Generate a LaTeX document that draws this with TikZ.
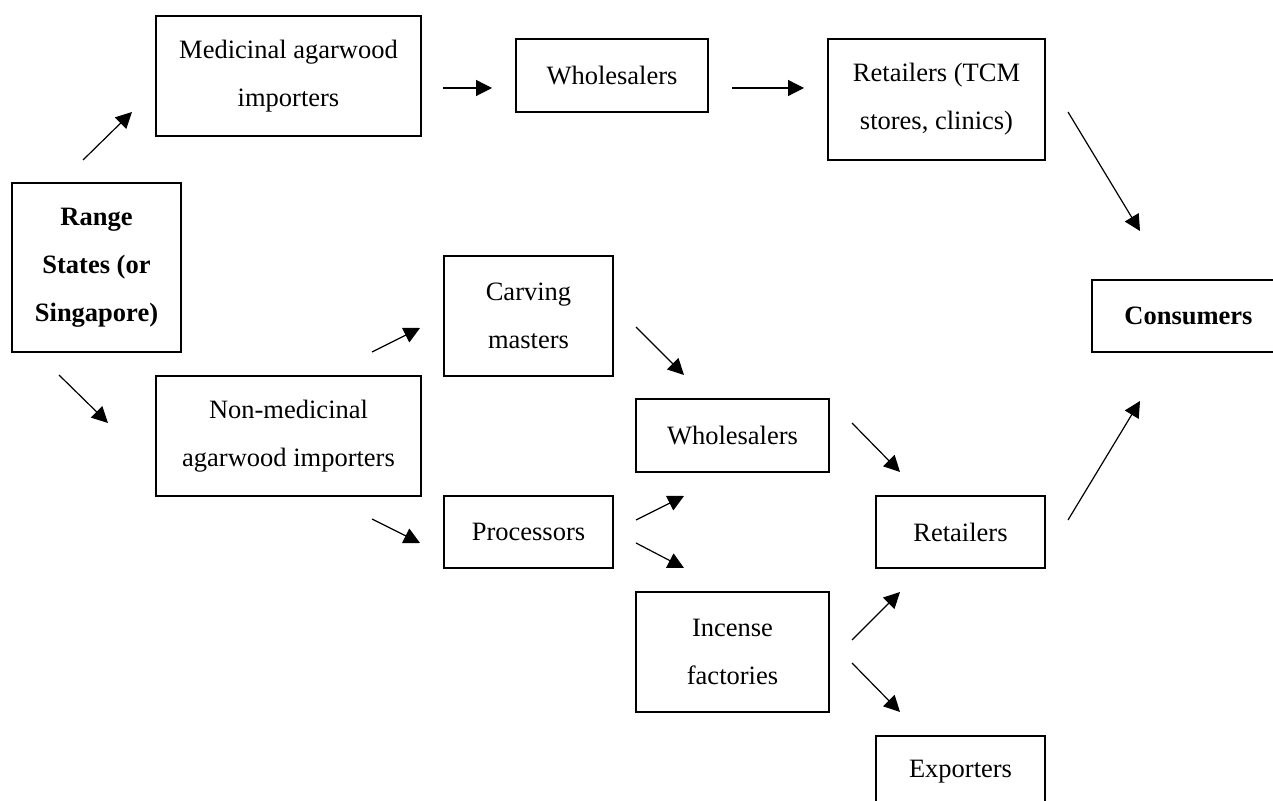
\documentclass[tikz,border=0pt]{standalone}
\usepackage{fontspec}
\setmainfont{Liberation Serif}
\usetikzlibrary{arrows.meta}
\begin{document}
\begin{tikzpicture}[x=0.5pt,y=-0.5pt,
  box/.style={draw,line width=0.7pt,inner sep=0pt,align=center,
    font={\fontsize{13.25pt}{24pt}\selectfont}},
  flow/.style={line width=0.6pt,-{Triangle[length=8pt,width=8pt]}}]
\useasboundingbox (0,0) rectangle (1273,801);
\clip (0,0) rectangle (1273,801);
\fill[white] (0,0) rectangle (1273,801);
% boxes
\node[box,minimum width=84.5pt,minimum height=84.5pt] (range) at (96.5,267.5) {\textbf{Range}\\\textbf{States (or}\\\textbf{Singapore)}};
\node[box,minimum width=132.5pt,minimum height=60pt] (medimp) at (288.5,76) {Medicinal agarwood\\importers};
\node[box,minimum width=96pt,minimum height=36.5pt] (whtop) at (612,75.5) {Wholesalers};
\node[box,minimum width=108.5pt,minimum height=60.5pt] (rettcm) at (936.5,99.5) {Retailers (TCM\\stores, clinics)};
\node[box,minimum width=96.5pt,minimum height=36pt] (cons) at (1188.5,316) {\textbf{Consumers}};
\node[box,minimum width=84.5pt,minimum height=60pt] (carv) at (528.5,316) {Carving\\masters};
\node[box,minimum width=132.5pt,minimum height=60pt] (nonmed) at (288.5,436) {Non-medicinal\\agarwood importers};
\node[box,minimum width=96.5pt,minimum height=36.5pt] (whmid) at (732.5,435.5) {Wholesalers};
\node[box,minimum width=84.5pt,minimum height=36pt] (proc) at (528.5,532) {Processors};
\node[box,minimum width=84.5pt,minimum height=36pt] (ret) at (960.5,532) {Retailers};
\node[box,minimum width=96.5pt,minimum height=60pt] (inc) at (732.5,652) {Incense\\factories};
\node[box,minimum width=84.5pt,minimum height=36pt] (exp) at (960.5,772) {Exporters};
% arrow end points
\coordinate (a1s) at (83,160);   \coordinate (a1e) at (132,112);
\coordinate (a2s) at (443,88);   \coordinate (a2e) at (492,88);
\coordinate (a3s) at (732,88);   \coordinate (a3e) at (804,88);
\coordinate (a4s) at (1068,112); \coordinate (a4e) at (1140,231);
\coordinate (a5s) at (59,375);   \coordinate (a5e) at (108,423);
\coordinate (a6s) at (372,352);  \coordinate (a6e) at (420,328);
\coordinate (a7s) at (636,327);  \coordinate (a7e) at (684,375);
\coordinate (a8s) at (372,519);  \coordinate (a8e) at (420,543);
\coordinate (a9s) at (636,520);  \coordinate (a9e) at (684,496);
\coordinate (a10s) at (636,543); \coordinate (a10e) at (684,568);
\coordinate (a11s) at (852,423); \coordinate (a11e) at (900,472);
\coordinate (a12s) at (1068,520);\coordinate (a12e) at (1140,401);
\coordinate (a13s) at (852,640); \coordinate (a13e) at (900,592);
\coordinate (a14s) at (852,663); \coordinate (a14e) at (900,712);
\foreach \i in {1,...,14}{\draw[flow] (a\i s) -- (a\i e);}
\end{tikzpicture}
\end{document}
